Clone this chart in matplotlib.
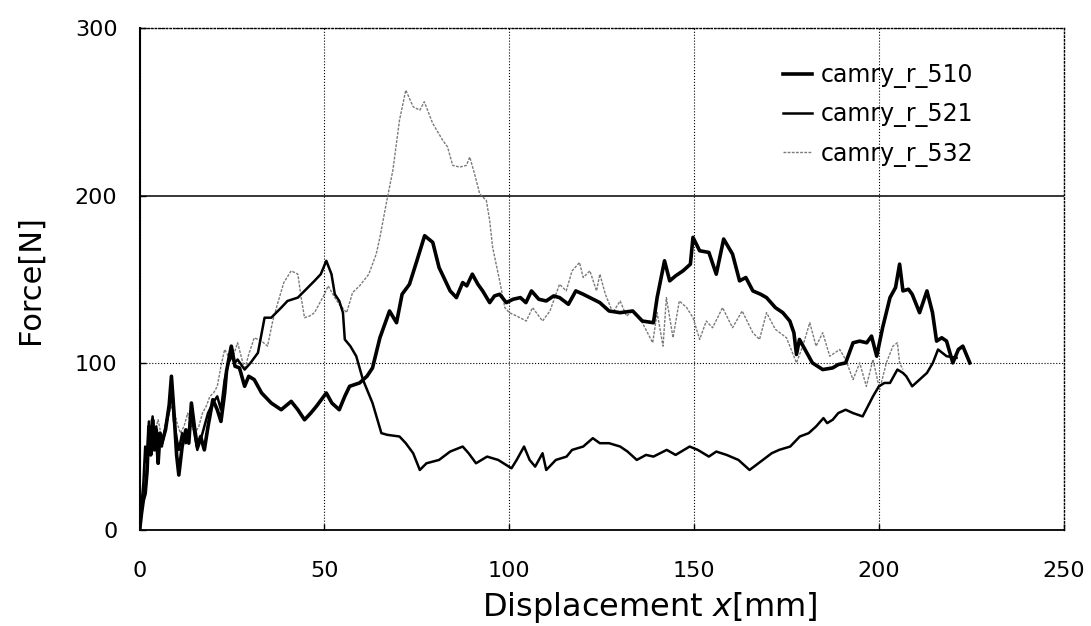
import matplotlib
matplotlib.use('Agg')
import matplotlib.pyplot as plt

matplotlib.rc('font', family='DejaVu Sans', size=16)
matplotlib.rc('xtick', labelsize=16)
matplotlib.rc('ytick', labelsize=16)

# camry_r_510 (thick)
x510 = [0, 0.5, 1, 1.5, 2, 2.5, 3, 3.5, 4, 4.5, 5, 5.5, 6, 7, 8, 8.6, 9.3, 10, 10.6, 11.5,
        12.5, 13.3, 14, 14.8, 15.6, 16.5, 17.5, 18.5, 19.8, 21, 22, 23, 23.5, 24.8, 25.8, 27,
        28.4, 29.5, 31, 33, 35.6, 38.3, 41, 42.8, 44.6, 46.3, 47.8, 50.5, 52, 54, 55.5, 56.8,
        59.5, 61.5, 63, 65, 67.6, 69.5, 71, 73, 75, 77.1, 79.3, 81, 82.5, 84, 85.7, 87.4, 88.5,
        90, 91.5, 92.8, 94.7, 96, 97.4, 99.2, 101, 103, 104.5, 106, 108, 110, 112, 113.6, 116,
        118, 120, 121.8, 124.5, 127, 130, 133.4, 136, 139, 140, 141, 142, 143.4, 145, 147, 149,
        149.7, 151.5, 154, 156, 158, 160.4, 162.3, 164, 165.9, 168, 169.6, 172, 174, 175.9, 177,
        177.7, 178.5, 179.5, 181, 182, 184.8, 187.5, 189, 191, 193, 194.8, 196.7, 198, 199.4,
        201, 203, 204.5, 205.6, 206.5, 208, 209, 211, 213, 214.5, 215.6, 217, 218.3, 220, 221.5,
        222.7, 224.6]
y510 = [0, 10, 18, 22, 35, 62, 45, 66, 48, 60, 40, 58, 52, 60, 75, 92, 70, 45, 33, 50,
        60, 52, 76, 62, 50, 56, 48, 62, 78, 72, 65, 82, 95, 110, 98, 97,
        86, 92, 90, 82, 76, 72, 77, 72, 66, 70, 74, 82, 76, 72, 80, 86,
        88, 92, 97, 115, 131, 124, 141, 147, 161, 176, 172, 157, 150, 143, 139, 148, 146,
        153, 147, 143, 136, 140, 141, 136, 138, 139, 136, 143, 138, 137, 140, 139, 135,
        143, 141, 139, 136, 131, 130, 131, 125, 124, 139, 150, 161, 149, 152, 155, 159,
        175, 167, 166, 153, 174, 165, 149, 151, 143, 141, 139, 133, 130, 125, 118,
        105, 114, 110, 104, 100, 96, 97, 99, 100, 112, 113, 112, 116, 104,
        121, 139, 145, 159, 143, 144, 141, 130, 143, 130, 113, 115, 113, 100, 108,
        110, 100]

# camry_r_521
x521 = [0, 0.5, 1, 1.5, 2, 2.5, 3, 3.5, 4, 4.5, 5, 5.5, 6, 7, 8, 8.6, 9.3, 10, 10.6, 11.5,
        12.5, 13.3, 14, 14.8, 15.6, 16.5, 17.5, 18.5, 19.8, 21, 22, 23, 24, 25, 25.7, 26.5,
        28.4, 30, 32, 33.8, 35.6, 38.3, 40, 42.8, 44.6, 47.3, 49, 50.5, 51.9, 52.8, 54, 55,
        55.5, 57, 58.6, 60.4, 63, 65.4, 67, 70.3, 72, 74, 75.8, 77.6, 81, 84, 87.4, 89, 91, 94,
        97, 100.6, 102, 104, 105.5, 107, 109, 110, 112.6, 115.5, 117, 120, 122.6, 124.5, 127,
        130, 132, 134.5, 137, 139, 142.6, 145, 148.8, 151, 154, 156, 158.8, 162, 165, 168.6,
        171, 173, 176, 178.6, 181, 183, 185, 186, 187.5, 189, 191, 193, 195.6, 198.4, 200,
        201.5, 203, 205, 206.5, 207.4, 209, 211, 213, 214.6, 216, 218.3, 221]
y521 = [0, 15, 28, 50, 40, 65, 50, 68, 55, 62, 45, 55, 50, 62, 72, 85, 65, 55, 48, 58,
        52, 60, 70, 58, 48, 54, 62, 70, 76, 80, 72, 90, 100, 104, 100, 102,
        96, 100, 106, 127, 127, 133, 137, 139, 143, 149, 153, 161, 153, 141, 137, 130,
        114, 110, 104, 90, 76, 58, 57, 56, 52, 46, 36, 40, 42, 47, 50, 46, 40, 44,
        42, 37, 42, 50, 42, 38, 46, 36, 42, 44, 48, 50, 55, 52, 52,
        50, 47, 42, 45, 44, 48, 45, 50, 48, 44, 47, 45, 42, 36, 42,
        46, 48, 50, 56, 58, 62, 67, 64, 66, 70, 72, 70, 68, 80, 86,
        88, 88, 96, 94, 92, 86, 90, 94, 100, 108, 104, 103]

# camry_r_532 (grey)
x532 = [0, 0.5, 1, 1.5, 2, 2.5, 3, 3.5, 4, 5, 6, 7, 8, 9, 10, 11, 12, 13, 14, 15, 16, 17,
        18, 19, 20, 21, 22, 23, 24, 25, 26.5, 28.4, 29.5, 31, 33, 34.6, 36, 37.4, 39, 41, 42.8,
        43.7, 44.6, 46, 47.3, 50, 51, 52.8, 54, 56, 57.6, 59.5, 62, 64, 65, 66.7, 68.5, 70.3,
        72, 74, 75.8, 77, 79.3, 82, 83.3, 84.7, 86.6, 88.4, 89.3, 90.6, 92, 93.8, 94.7, 95.5,
        97.4, 98.8, 100, 102, 104.6, 106.3, 109, 111, 113.6, 115.4, 117, 119, 120, 121.8, 123.6,
        124.5, 126, 128, 130, 131.7, 133.4, 136, 138.8, 140, 141.6, 142.5, 144.3, 146, 148,
        149.7, 151.5, 153.3, 155, 157.7, 160.4, 163, 165.9, 167.7, 169.6, 172, 175, 177.7,
        179.4, 181.3, 183, 184.8, 186.7, 189.4, 191, 193, 194.8, 196.6, 198.4, 200.2, 202,
        203.8, 205, 205.6, 206.5]
y532 = [0, 12, 22, 30, 45, 55, 50, 62, 58, 66, 55, 60, 70, 76, 65, 58, 62, 70, 62, 58, 62, 70,
        74, 80, 82, 86, 98, 108, 104, 102, 112, 96, 105, 115, 113, 110, 125, 136, 148, 155, 153,
        139, 127, 128, 130, 141, 146, 139, 135, 130, 142, 146, 153, 165, 175, 195, 215, 245,
        263, 253, 251, 256, 243, 233, 229, 218, 217, 218, 223, 213, 201, 197, 185, 169,
        149, 133, 130, 128, 125, 133, 125, 131, 147, 143, 155, 160, 151, 155, 143,
        153, 141, 130, 137, 128, 131, 124, 112, 130, 110, 139, 115, 137, 133,
        127, 114, 125, 121, 133, 121, 131, 118, 114, 130, 120, 115, 100,
        110, 124, 110, 118, 104, 108, 102, 90, 100, 86, 102, 84, 100,
        110, 112, 100, 96]

xticks = [0, 50, 100, 150, 200, 250]
yticks = [0, 100, 200, 300]

fig = plt.figure(figsize=(10.91, 6.26), dpi=100)
ax = fig.add_axes([0.128, 0.153, 0.847, 0.802])

ax.plot(x510, y510, color='black', lw=2.6, label='camry_r_510', zorder=4)
ax.plot(x521, y521, color='black', lw=1.8, label='camry_r_521', zorder=3)
ax.plot(x532, y532, color='#7a7a7a', lw=1.0, ls=(0, (2, 1)), label='camry_r_532', zorder=2)

ax.set_xlim(0, 250)
ax.set_ylim(0, 300)
ax.set_xticks(xticks)
ax.set_yticks(yticks)
ax.tick_params(direction='in', length=4, width=1)
ax.tick_params(axis='x', pad=22)
ax.tick_params(axis='y', pad=16)

ax.grid(True, ls=':', color='black', lw=0.8)
for gl, v in zip(ax.get_ygridlines(), yticks):
    if v == 200:
        gl.set_linestyle('-')
        gl.set_linewidth(1.1)

ax.spines['left'].set_linewidth(1.5)
ax.spines['bottom'].set_linewidth(1.3)
for s in ['top', 'right']:
    ax.spines[s].set_linestyle(':')
    ax.spines[s].set_linewidth(1.0)

ax.set_xlabel('Displacement $\\it{x}$[mm]', fontsize=23)
ax.set_ylabel('Force[N]', fontsize=22)
ax.xaxis.set_label_coords(0.552, -0.12)
ax.yaxis.set_label_coords(-0.103, 0.5)

ax.legend(loc='upper left', bbox_to_anchor=(0.696, 0.93), frameon=False,
          fontsize=17, handlelength=1.25, handletextpad=0.35, labelspacing=0.6,
          borderpad=0, borderaxespad=0)

fig.savefig('out.png', dpi=100)
